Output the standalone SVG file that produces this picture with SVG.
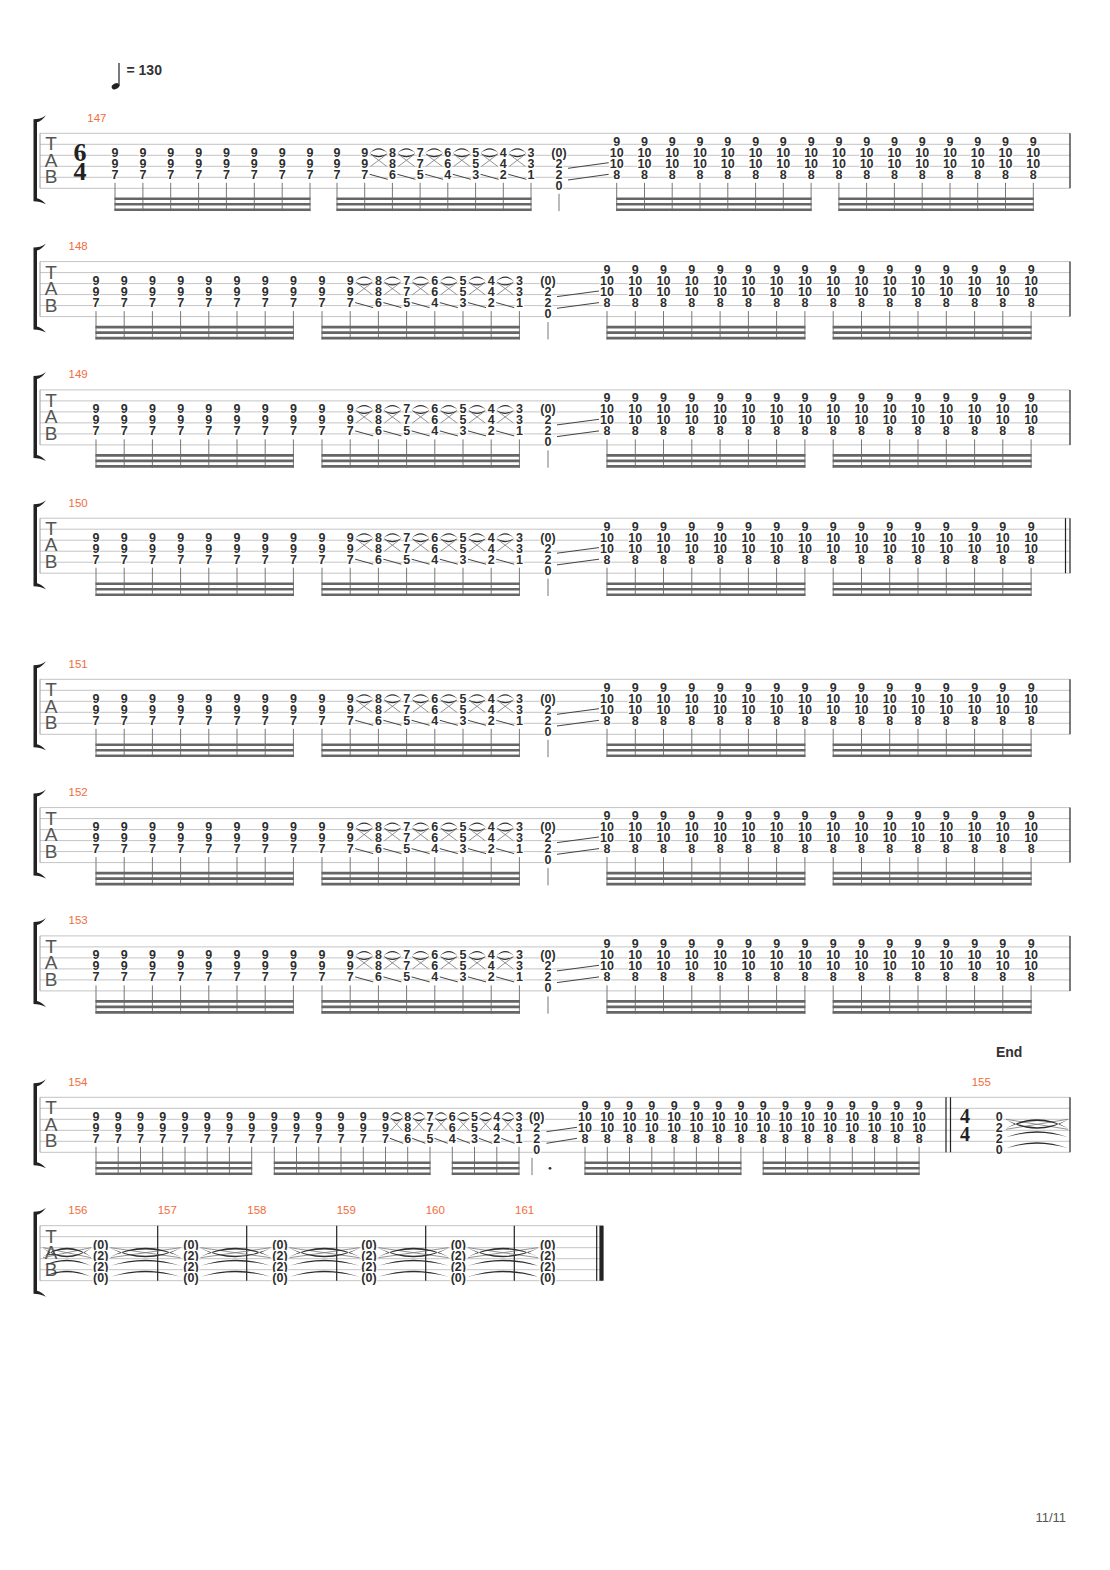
<svg xmlns="http://www.w3.org/2000/svg" width="1110" height="1570" viewBox="0 0 1110 1570">
<style>
.sl{stroke:#c4c4c4;stroke-width:1;fill:none}
.lb{stroke:#9a9a9a;stroke-width:1;fill:none}
.bar{stroke:#222;stroke-width:1.2;fill:none}
.n text{font-family:"Liberation Sans",Arial,sans-serif;font-weight:bold;font-size:12.5px;text-anchor:middle;fill:#2e2e2e;stroke:#fff;stroke-width:2.4px;paint-order:stroke;stroke-linejoin:round}
.stem{stroke:#777;stroke-width:1;fill:none}
.bm{stroke:#666;stroke-width:2.6;fill:none}
.tx{stroke:#777;stroke-width:0.8;fill:none}
.tf{fill:#2e2e2e;stroke:none}
.sld{stroke:#444;stroke-width:1;fill:none}
.mn{font-family:"Liberation Sans",Arial,sans-serif;font-size:11.5px;fill:#f26c3c}
.tab{font-family:"Liberation Sans",Arial,sans-serif;font-size:19px;fill:#555;text-anchor:middle}
.ts{font-family:"Liberation Serif","Times New Roman",serif;font-weight:bold;text-anchor:middle;fill:#222}
</style>
<defs>
<path id="brk" fill="#222" d="M33.5 -14C38 -14 42 -15 46 -18C43 -14 40 -11.5 37 -11V65C40 65.5 43 68 46 71C42 69 38 68 33.5 68Z"/>
<g id="tabl" class="tab"><text x="51" y="17">T</text><text x="51" y="33.3">A</text><text x="51" y="50">B</text></g>
<g id="cA" class="n"><text y="23.5">9</text><text y="34.5">9</text><text y="45.5">7</text><path class="stem" d="M0 49.5V77.8"/></g>
<g id="cB" class="n"><text y="12.5">9</text><text y="23.5">10</text><text y="34.5">10</text><text y="45.5">8</text><path class="stem" d="M0 49.5V77.8"/></g>
<g id="cZ" class="n"><text y="23.5">(0)</text><text y="34.5">2</text><text y="45.5">2</text><text y="56.5">0</text></g>
<g id="cE" class="n"><text y="23.5">0</text><text y="34.5">2</text><text y="45.5">2</text><text y="56.5">0</text></g>
<g id="cP" class="n"><text y="23.5">(0)</text><text y="34.5">(2)</text><text y="45.5">(2)</text><text y="56.5">(0)</text></g>
<g id="c8" class="n"><text y="23.5">8</text><text y="34.5">8</text><text y="45.5">6</text><path class="stem" d="M0 49.5V77.8"/></g>
<g id="c7" class="n"><text y="23.5">7</text><text y="34.5">7</text><text y="45.5">5</text><path class="stem" d="M0 49.5V77.8"/></g>
<g id="c6" class="n"><text y="23.5">6</text><text y="34.5">6</text><text y="45.5">4</text><path class="stem" d="M0 49.5V77.8"/></g>
<g id="c5" class="n"><text y="23.5">5</text><text y="34.5">5</text><text y="45.5">3</text><path class="stem" d="M0 49.5V77.8"/></g>
<g id="c4" class="n"><text y="23.5">4</text><text y="34.5">4</text><text y="45.5">2</text><path class="stem" d="M0 49.5V77.8"/></g>
<g id="c3" class="n"><text y="23.5">3</text><text y="34.5">3</text><text y="45.5">1</text><path class="stem" d="M0 49.5V77.8"/></g>
<g id="rc28"><path class="tx" d="M6 21L22 33M6 33L22 21"/><path class="tf" d="M5 20Q14 10 23 20Q14 12.5 5 20ZM5 20Q14 28 23 20Q14 25.5 5 20Z"/><path class="sld" d="M5 41L23 46"/></g>
<g id="rc22"><path class="tx" d="M5.5 21L16.7 33M5.5 33L16.7 21"/><path class="tf" d="M4.5 20Q11.1 10 17.7 20Q11.1 12.5 4.5 20ZM4.5 20Q11.1 28 17.7 20Q11.1 25.5 4.5 20Z"/><path class="sld" d="M4.5 41L17.7 46"/></g>
<g id="tie70"><path class="tx" d="M0 22L70 32M0 32L70 22"/><path class="tf" d="M0 31Q35 13 70 31Q35 16.5 0 31ZM0 22.5Q35 40.5 70 22.5Q35 37.5 0 22.5ZM0 40Q35 28 70 40Q35 31 0 40ZM0 51Q35 39 70 51Q35 42 0 51Z"/></g>
<g id="body">
<path class="sl" d="M40 0H1070M40 11H1070M40 22H1070M40 33H1070M40 44H1070M40 55H1070"/>
<path class="lb" d="M40 0V55"/>
<use href="#brk"/><use href="#tabl"/>
<path class="bar" d="M1070 0V55"/>
<use href="#cA" x="96"/><use href="#cA" x="124.2"/><use href="#cA" x="152.4"/><use href="#cA" x="180.6"/><use href="#cA" x="208.8"/><use href="#cA" x="237"/><use href="#cA" x="265.2"/><use href="#cA" x="293.4"/>
<use href="#cA" x="322"/><use href="#cA" x="350.2"/><use href="#c8" x="378.4"/><use href="#c7" x="406.6"/><use href="#c6" x="434.8"/><use href="#c5" x="463"/><use href="#c4" x="491.2"/><use href="#c3" x="519.4"/>
<use href="#cZ" x="548"/><path class="stem" d="M548 60.5V77.8"/>
<use href="#cB" x="607"/><use href="#cB" x="635.3"/><use href="#cB" x="663.5"/><use href="#cB" x="691.8"/><use href="#cB" x="720.1"/><use href="#cB" x="748.4"/><use href="#cB" x="776.6"/><use href="#cB" x="804.9"/>
<use href="#cB" x="833.2"/><use href="#cB" x="861.5"/><use href="#cB" x="889.7"/><use href="#cB" x="918"/><use href="#cB" x="946.3"/><use href="#cB" x="974.6"/><use href="#cB" x="1002.8"/><use href="#cB" x="1031.1"/>
<path class="bm" d="M95.5 65.5H293.9M95.5 71H293.9M95.5 76.5H293.9M321.5 65.5H519.9M321.5 71H519.9M321.5 76.5H519.9M606.5 65.5H805.4M606.5 71H805.4M606.5 76.5H805.4M832.7 65.5H1031.6M832.7 71H1031.6M832.7 76.5H1031.6"/>
<g class="connectors">
<use href="#rc28" x="350.2"/><use href="#rc28" x="378.4"/><use href="#rc28" x="406.6"/><use href="#rc28" x="434.8"/><use href="#rc28" x="463"/><use href="#rc28" x="491.2"/>
<path class="sld" d="M557 35L599 29.4M557 46.7L599 41"/>
</g>
</g>
</defs>
<rect width="1110" height="1570" fill="#fff"/>

<g id="tempo">
<ellipse cx="115.5" cy="86.3" rx="4" ry="2.8" transform="rotate(-25 115.5 86.3)" fill="#222"/>
<path d="M119 63V86" stroke="#222" stroke-width="1.2"/>
<text x="126.5" y="75" font-family="Liberation Sans,Arial,sans-serif" font-weight="bold" font-size="14" fill="#333">= 130</text>
</g>

<g id="system-147">
<text class="mn" x="87.3" y="121.7">147</text>
<g transform="translate(0 133.3)">
<path class="sl" d="M40 0H1070M40 11H1070M40 22H1070M40 33H1070M40 44H1070M40 55H1070"/>
<path class="lb" d="M40 0V55"/>
<use href="#brk"/><use href="#tabl"/>
<path class="bar" d="M1070 0V55"/>
<text class="ts" font-size="26" x="80" y="28">6<tspan x="80" y="46.5">4</tspan></text>
<use href="#cA" x="115"/><use href="#cA" x="142.9"/><use href="#cA" x="170.7"/><use href="#cA" x="198.6"/><use href="#cA" x="226.4"/><use href="#cA" x="254.3"/><use href="#cA" x="282.2"/><use href="#cA" x="310"/>
<use href="#cA" x="337"/><use href="#cA" x="364.7"/><use href="#c8" x="392.4"/><use href="#c7" x="420.1"/><use href="#c6" x="447.8"/><use href="#c5" x="475.6"/><use href="#c4" x="503.3"/><use href="#c3" x="531"/>
<use href="#cZ" x="559"/><path class="stem" d="M559 60.5V77.8"/>
<use href="#cB" x="616.7"/><use href="#cB" x="644.5"/><use href="#cB" x="672.2"/><use href="#cB" x="700"/><use href="#cB" x="727.8"/><use href="#cB" x="755.6"/><use href="#cB" x="783.3"/><use href="#cB" x="811.1"/>
<use href="#cB" x="838.9"/><use href="#cB" x="866.6"/><use href="#cB" x="894.4"/><use href="#cB" x="922.2"/><use href="#cB" x="950"/><use href="#cB" x="977.7"/><use href="#cB" x="1005.5"/><use href="#cB" x="1033.3"/>
<path class="bm" d="M114.5 65.5H310.5M114.5 71H310.5M114.5 76.5H310.5M336.5 65.5H531.5M336.5 71H531.5M336.5 76.5H531.5M616.2 65.5H811.6M616.2 71H811.6M616.2 76.5H811.6M838.4 65.5H1033.8M838.4 71H1033.8M838.4 76.5H1033.8"/>
<g class="connectors">
<use href="#rc28" x="364.7"/><use href="#rc28" x="392.4"/><use href="#rc28" x="420.1"/><use href="#rc28" x="447.8"/><use href="#rc28" x="475.6"/><use href="#rc28" x="503.3"/>
<path class="sld" d="M568 35L608.7 29.4M568 46.7L608.7 41"/>
</g>
</g>
</g>

<g id="system-148"><text class="mn" x="68.5" y="250">148</text><use href="#body" y="261.6"/></g>
<g id="system-149"><text class="mn" x="68.5" y="378.3">149</text><use href="#body" y="389.9"/></g>
<g id="system-150"><text class="mn" x="68.5" y="506.6">150</text><use href="#body" y="518.2"/><path class="bar" d="M1065.5 518.2V573.2"/></g>
<g id="system-151"><text class="mn" x="68.5" y="667.7">151</text><use href="#body" y="679.3"/></g>
<g id="system-152"><text class="mn" x="68.5" y="796">152</text><use href="#body" y="807.6"/></g>
<g id="system-153"><text class="mn" x="68.5" y="924.3">153</text><use href="#body" y="935.9"/></g>

<g id="system-154">
<text x="1009.2" y="1057.3" text-anchor="middle" font-family="Liberation Sans,Arial,sans-serif" font-weight="bold" font-size="14" fill="#333">End</text>
<text class="mn" x="68.3" y="1085.7">154</text>
<text class="mn" x="971.7" y="1085.7">155</text>
<g transform="translate(0 1097.3)">
<path class="sl" d="M40 0H1070M40 11H1070M40 22H1070M40 33H1070M40 44H1070M40 55H1070"/>
<path class="lb" d="M40 0V55"/>
<use href="#brk"/><use href="#tabl"/>
<path class="bar" d="M946 0V55M950.5 0V55M1070 0V55" stroke-width="1.4"/>
<text class="ts" font-size="20" x="965" y="26">4<tspan x="965" y="43.5">4</tspan></text>
<use href="#cA" x="96"/><use href="#cA" x="118.2"/><use href="#cA" x="140.5"/><use href="#cA" x="162.7"/><use href="#cA" x="185"/><use href="#cA" x="207.2"/><use href="#cA" x="229.4"/><use href="#cA" x="251.7"/>
<use href="#cA" x="274.3"/><use href="#cA" x="296.5"/><use href="#cA" x="318.8"/><use href="#cA" x="341"/><use href="#cA" x="363.3"/><use href="#cA" x="385.5"/><use href="#c8" x="407.7"/><use href="#c7" x="430"/>
<use href="#c6" x="452.3"/><use href="#c5" x="474.5"/><use href="#c4" x="496.8"/><use href="#c3" x="519"/>
<use href="#cZ" x="536.7"/><path class="stem" d="M532 60.5V77.8"/><circle cx="550" cy="71" r="1.4" fill="#333"/>
<use href="#cB" x="585"/><use href="#cB" x="607.3"/><use href="#cB" x="629.5"/><use href="#cB" x="651.8"/><use href="#cB" x="674.1"/><use href="#cB" x="696.4"/><use href="#cB" x="718.6"/><use href="#cB" x="740.9"/>
<use href="#cB" x="763.2"/><use href="#cB" x="785.5"/><use href="#cB" x="807.7"/><use href="#cB" x="830"/><use href="#cB" x="852.3"/><use href="#cB" x="874.6"/><use href="#cB" x="896.8"/><use href="#cB" x="919.1"/>
<path class="bm" d="M95.5 65.5H252.2M95.5 71H252.2M95.5 76.5H252.2M273.8 65.5H430.5M273.8 71H430.5M273.8 76.5H430.5M451.8 65.5H519.5M451.8 71H519.5M451.8 76.5H519.5M584.5 65.5H741.4M584.5 71H741.4M584.5 76.5H741.4M762.7 65.5H919.6M762.7 71H919.6M762.7 76.5H919.6"/>
<use href="#cE" x="999.3"/>
<g class="connectors">
<use href="#rc22" x="385.5"/><use href="#rc22" x="407.7"/><use href="#rc22" x="430"/><use href="#rc22" x="452.3"/><use href="#rc22" x="474.5"/><use href="#rc22" x="496.8"/>
<path class="sld" d="M546.5 34.4L577 30M546.5 46L577 41"/>
<g transform="translate(1006 0)"><path class="tx" d="M0 22L62 32M0 32L62 22"/><path class="tf" d="M0 31Q31 13 62 31Q31 16.5 0 31ZM0 22.5Q31 40.5 62 22.5Q31 37.5 0 22.5ZM0 40Q31 28 62 40Q31 31 0 40ZM0 51Q31 39 62 51Q31 42 0 51Z"/></g>
</g>
</g>
</g>

<g id="system-156">
<text class="mn" x="68.3" y="1214.1">156</text>
<text class="mn" x="157.7" y="1214.1">157</text>
<text class="mn" x="247.3" y="1214.1">158</text>
<text class="mn" x="336.7" y="1214.1">159</text>
<text class="mn" x="425.7" y="1214.1">160</text>
<text class="mn" x="515" y="1214.1">161</text>
<g transform="translate(0 1225.7)">
<path class="sl" d="M40 0H603M40 11H603M40 22H603M40 33H603M40 44H603M40 55H603"/>
<path class="lb" d="M40 0V55"/>
<use href="#brk"/><use href="#tabl"/>
<path class="bar" d="M157.7 0V55M246.7 0V55M336.7 0V55M425.7 0V55M514.3 0V55M596.7 0V55"/>
<rect x="599.4" y="0" width="4.2" height="55" fill="#222"/>
<g class="connectors">
<g transform="translate(43 0)"><path class="tx" d="M0 22L48 32M0 32L48 22"/><path class="tf" d="M0 31Q24 13 48 31Q24 16.5 0 31ZM0 22.5Q24 40.5 48 22.5Q24 37.5 0 22.5ZM0 40Q24 28 48 40Q24 31 0 40ZM0 51Q24 39 48 51Q24 42 0 51Z"/></g>
<use href="#tie70" x="110.5"/><use href="#tie70" x="200.5"/><use href="#tie70" x="289.5"/><use href="#tie70" x="378.5"/><use href="#tie70" x="468"/>
</g>
<use href="#cP" x="100.7"/><use href="#cP" x="191"/><use href="#cP" x="280"/><use href="#cP" x="369"/><use href="#cP" x="458.3"/><use href="#cP" x="547.7"/>
</g>
</g>

<text x="1066" y="1522" text-anchor="end" font-family="Liberation Sans,Arial,sans-serif" font-size="13" fill="#555">11/11</text>
</svg>
